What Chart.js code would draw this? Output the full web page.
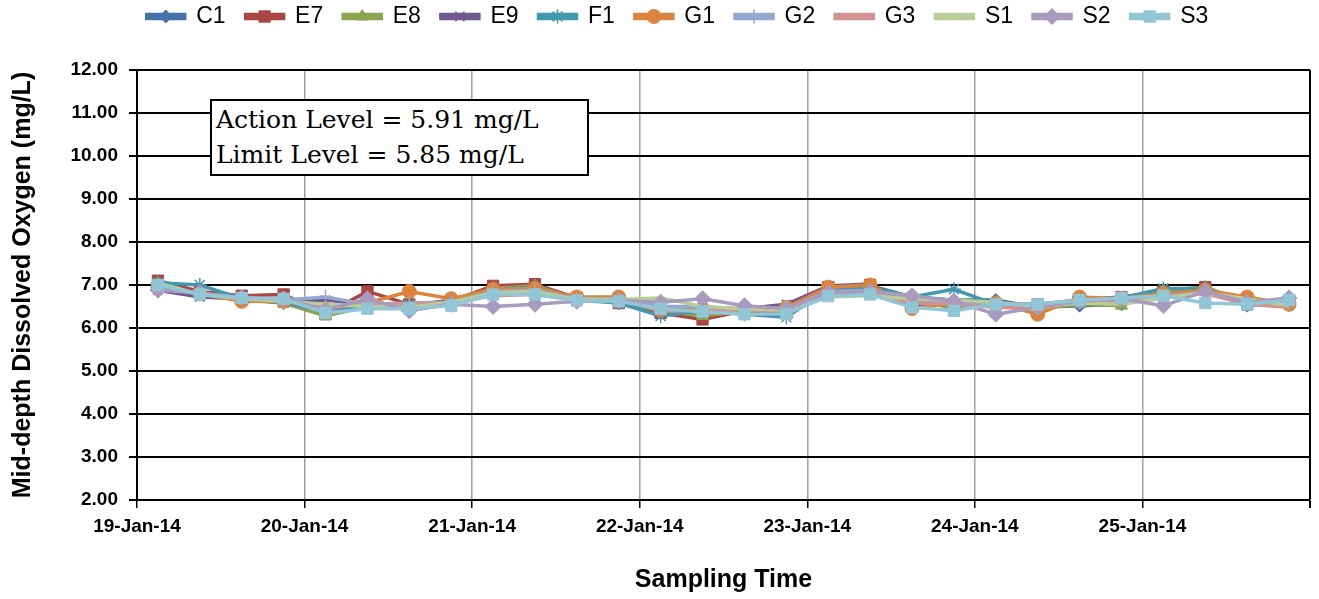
<!DOCTYPE html>
<html>
<head>
<meta charset="utf-8">
<script src="https://cdn.jsdelivr.net/npm/chart.js@4.4.1/dist/chart.umd.min.js"></script>
<style>
  html, body { margin: 0; padding: 0; background: #fff; }
  #wrap { position: relative; width: 1319px; height: 599px; }
  #note {
    position: absolute; left: 210px; top: 99px; width: 371px; height: 71px;
    border: 2px solid #000; background: #fff;
    font-family: "DejaVu Serif", "Liberation Serif", serif; font-size: 25px;
    line-height: 35px; padding: 1px 0 1px 4px; box-sizing: content-box; color: #000;
    white-space: nowrap; overflow: hidden;
  }
</style>
</head>
<body>
<div id="wrap">
  <canvas id="c" width="1319" height="599"></canvas>
  <div id="note">Action Level = 5.91 mg/L<br>Limit Level = 5.85 mg/L</div>
</div>
<script>
// Tick labels (one per day on the x axis)
const tickLabels = ['19-Jan-14','20-Jan-14','21-Jan-14','22-Jan-14','23-Jan-14','24-Jan-14','25-Jan-14'];
// Sampling times, in days after 19-Jan-14 00:00
const sampleDays = [0.125,0.375,0.625,0.875, 1.125,1.375,1.625,1.875, 2.125,2.375,2.625,2.875,
                    3.125,3.375,3.625,3.875, 4.125,4.375,4.625,4.875, 5.125,5.375,5.625,5.875,
                    6.125,6.375,6.625,6.875];
// Mid-depth DO (mg/L) per station
const C1 = [7.00,6.80,6.68,6.62, 6.40,6.55,6.52,6.60, 6.90,6.95,6.68,6.65, 6.35,6.42,6.35,6.40, 6.92,6.98,6.72,6.65, 6.65,6.48,6.52,6.55, 6.85,6.88,6.52,6.62];
const E7 = [7.10,6.85,6.75,6.78, 6.32,6.85,6.55,6.62, 6.98,7.02,6.70,6.58, 6.35,6.20,6.40,6.38, 6.95,7.00,6.55,6.55, 6.55,6.55,6.65,6.72, 6.85,6.95,6.55,6.65];
const E8 = [7.05,6.78,6.65,6.58, 6.28,6.50,6.50,6.62, 6.92,6.98,6.68,6.62, 6.40,6.28,6.40,6.42, 6.85,6.88,6.68,6.45, 6.58,6.45,6.55,6.52, 6.88,6.95,6.60,6.60];
const E9 = [6.88,6.72,6.68,6.60, 6.65,6.55,6.50,6.65, 6.88,6.92,6.68,6.60, 6.45,6.48,6.45,6.55, 6.98,7.02,6.50,6.60, 6.50,6.45,6.62,6.72, 6.78,6.90,6.58,6.65];
const F1 = [7.05,7.00,6.68,6.58, 6.40,6.50,6.55,6.58, 6.90,6.95,6.65,6.58, 6.28,6.40,6.32,6.25, 6.90,6.95,6.72,6.90, 6.55,6.50,6.62,6.70, 6.92,6.92,6.55,6.62];
const G1 = [6.95,6.80,6.62,6.62, 6.45,6.58,6.85,6.68, 6.90,6.92,6.72,6.72, 6.42,6.45,6.42,6.48, 6.95,7.00,6.45,6.58, 6.58,6.32,6.72,6.68, 6.80,6.88,6.72,6.55];
const G2 = [7.00,6.78,6.72,6.65, 6.72,6.55,6.58,6.60, 6.85,6.88,6.68,6.68, 6.50,6.50,6.40,6.45, 6.85,6.88,6.60,6.58, 6.55,6.48,6.60,6.65, 6.75,6.82,6.60,6.58];
const G3 = [6.98,6.80,6.68,6.65, 6.48,6.55,6.55,6.58, 6.75,6.78,6.65,6.66, 6.40,6.40,6.42,6.40, 6.80,6.85,6.58,6.55, 6.48,6.45,6.62,6.62, 6.72,6.80,6.55,6.48];
const S1 = [7.05,6.78,6.68,6.62, 6.55,6.50,6.48,6.60, 6.82,6.85,6.66,6.66, 6.70,6.50,6.45,6.42, 6.72,6.75,6.68,6.65, 6.60,6.50,6.58,6.55, 6.70,6.82,6.68,6.52];
const S2 = [6.88,6.82,6.70,6.68, 6.42,6.68,6.40,6.55, 6.50,6.55,6.62,6.64, 6.60,6.68,6.52,6.45, 6.82,6.85,6.75,6.62, 6.32,6.48,6.62,6.68, 6.52,6.85,6.60,6.70];
const S3 = [7.00,6.78,6.70,6.68, 6.35,6.45,6.45,6.52, 6.78,6.78,6.64,6.62, 6.45,6.38,6.32,6.33, 6.74,6.78,6.48,6.40, 6.55,6.55,6.65,6.70, 6.75,6.58,6.55,6.65];
const yTicks = [2,3,4,5,6,7,8,9,10,11,12];

const seriesNames = ['C1','E7','E8','E9','F1','G1','G2','G3','S1','S2','S3'];
const seriesValues = [C1,E7,E8,E9,F1,G1,G2,G3,S1,S2,S3];
const colors = ['#4572A7','#AA4643','#89A54E','#71588F','#4198AF','#DB843D','#93A9CF','#D19392','#B9CD96','#A99BBD','#92C5D6'];
const styles = ['rectRot','rect','triangle','crossRot','star','circle','cross','line','line','rectRot','rect'];
const radii  = [6.5, 8, 7, 6.5, 7, 7, 7, 0, 0, 8, 8];

const datasets = seriesNames.map((name, i) => ({
  label: name,
  data: sampleDays.map((d, j) => ({x: d, y: seriesValues[i][j]})),
  borderColor: colors[i],
  backgroundColor: colors[i],
  borderWidth: 3.5,
  pointStyle: styles[i],
  pointRadius: radii[i],
  pointHoverRadius: radii[i],
  pointBorderWidth: (styles[i] === 'crossRot' || styles[i] === 'star' || styles[i] === 'cross') ? 1.5 : 1,
  pointBorderColor: colors[i],
  pointBackgroundColor: colors[i],
  order: seriesNames.length - i,
  tension: 0
}));

const LEGEND_FONT = 23;
const LEGEND_HEIGHT = 85;
const LEGEND_SHIFT = 20;
const legendMarkers = {
  id: 'legendMarkers',
  beforeLayout(chart) {
    const lg = chart.legend;
    if (lg && !lg._fixedHeight) {
      const orig = lg.fit.bind(lg);
      lg.fit = function () { orig(); this.height = LEGEND_HEIGHT; };
      lg._fixedHeight = true;
    }
  },
  afterLayout(chart) {
    const lg = chart.legend;
    if (lg) { lg.left += LEGEND_SHIFT; lg.right += LEGEND_SHIFT; }
  },
  afterDraw(chart) {
    const lg = chart.legend;
    if (!lg || !lg.legendHitBoxes) return;
    const ctx = chart.ctx;
    const bw = lg.options.labels.boxWidth;
    lg.legendHitBoxes.forEach((hb, i) => {
      const item = lg.legendItems[i];
      const ds = chart.data.datasets[item.datasetIndex];
      if (!ds.pointRadius) return;
      const cx = hb.left + bw / 2;
      const cy = hb.top + LEGEND_FONT / 2;
      ctx.save();
      ctx.fillStyle = ds.backgroundColor;
      ctx.strokeStyle = ds.borderColor;
      ctx.lineWidth = ds.pointBorderWidth;
      Chart.helpers.drawPoint(ctx, {pointStyle: ds.pointStyle, radius: ds.pointRadius, rotation: 0, borderWidth: ds.pointBorderWidth}, cx, cy);
      ctx.restore();
    });
  }
};

const tickFont = {family: '"Liberation Sans", Arial, sans-serif', size: 19, weight: 'bold'};

new Chart(document.getElementById('c'), {
  type: 'line',
  data: { datasets },
  plugins: [legendMarkers],
  options: {
    responsive: false,
    animation: false,
    devicePixelRatio: 1,
    layout: { padding: { left: 0, right: 4, top: -15, bottom: 4 } },
    plugins: {
      tooltip: { enabled: false },
      legend: {
        position: 'top',
        labels: {
          boxWidth: 38,
          boxHeight: 4,
          padding: 20,
          color: '#000',
          sort: (a, b) => a.datasetIndex - b.datasetIndex,
          font: {family: '"Liberation Sans", Arial, sans-serif', size: LEGEND_FONT}
        }
      }
    },
    scales: {
      x: {
        type: 'linear',
        min: 0, max: 7,
        afterBuildTicks(scale) { scale.ticks = [0,1,2,3,4,5,6,7].map(v => ({value: v})); },
        ticks: {
          color: '#000', font: tickFont, padding: 7, maxRotation: 0, autoSkip: false,
          callback: (v) => tickLabels[v] !== undefined ? tickLabels[v] : ''
        },
        grid: {
          color: (c) => (c.tick && c.tick.value === 7) ? '#000' : '#a0a0a0',
          lineWidth: (c) => (c.tick && c.tick.value === 7) ? 2 : 1.5,
          tickColor: '#000', tickLength: 8, drawTicks: true
        },
        border: { color: '#000', width: 2 },
        title: {
          display: true, text: 'Sampling Time', color: '#000',
          font: {family: '"Liberation Sans", Arial, sans-serif', size: 25, weight: 'bold'},
          padding: {top: 10, bottom: 0}
        },
        afterFit(scale) { scale.height = 95; }
      },
      y: {
        type: 'linear',
        min: 2, max: 12,
        afterBuildTicks(scale) { scale.ticks = yTicks.map(v => ({value: v})); },
        ticks: { color: '#000', font: tickFont, padding: 11, callback: (v) => Number(v).toFixed(2) },
        grid: { color: '#000', lineWidth: 2, tickColor: '#000', tickLength: 8 },
        border: { color: '#000', width: 2 },
        title: {
          display: true, text: 'Mid-depth Dissolved Oxygen (mg/L)', color: '#000',
          font: {family: '"Liberation Sans", Arial, sans-serif', size: 25, weight: 'bold'},
          padding: {top: 8, bottom: 4}
        },
        afterFit(scale) { scale.width = 137; }
      }
    }
  }
});
</script>
</body>
</html>
